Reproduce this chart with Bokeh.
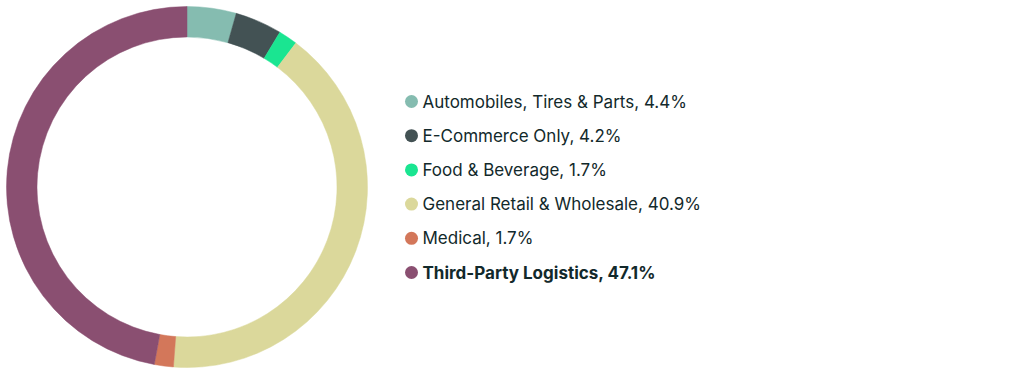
import numpy as np
from bokeh.plotting import figure
from bokeh.models import ColumnDataSource, Range1d
from bokeh.core.properties import value
from bokeh.embed import file_html
from bokeh.resources import INLINE

categories = ["Automobiles, Tires & Parts", "E-Commerce Only", "Food & Beverage",
              "General Retail & Wholesale", "Medical", "Third-Party Logistics"]
shares = [4.4, 4.2, 1.7, 40.9, 1.7, 47.1]
colors = ["#85bcb0", "#435254", "#1ae591", "#dbd89b", "#d3775a", "#8a4f71"]

W, H = 1020, 373
p = figure(width=W, height=H, output_backend="svg", toolbar_location=None,
           x_range=Range1d(0, W), y_range=Range1d(0, H), min_border=0)
p.axis.visible = False
p.grid.visible = False
p.outline_line_color = None
p.background_fill_color = "white"

total = sum(shares)
fr = np.array(shares) / total
ends = np.cumsum(fr)
starts = ends - fr
start_ang = np.pi / 2 - starts * 2 * np.pi
end_ang = np.pi / 2 - ends * 2 * np.pi

src = ColumnDataSource(dict(start=start_ang, end=end_ang, color=colors))
cx, cy = 186.5, H - 186.5
p.annular_wedge(x=cx, y=cy, inner_radius=150, outer_radius=180.5,
                start_angle="start", end_angle="end", direction="clock",
                fill_color="color", line_color="color", line_width=0.5,
                inner_radius_units="screen", outer_radius_units="screen", source=src)

labels = [f"{c}, {s}%" for c, s in zip(categories, shares)]
ys = [H - (101 + 34.2 * i) for i in range(len(categories))]
styles = ["normal"] * 5 + ["bold"]
lsrc = ColumnDataSource(dict(y=ys, label=labels, color=colors, style=styles))
p.scatter(x=411, y="y", size=13, fill_color="color", line_color=None, source=lsrc)
p.text(x=422, y="y", text="label", text_font=value("Inter"), text_font_size="17px",
       text_font_style="style", text_color="#12292b", text_baseline="middle",
       text_align="left", source=lsrc)

open("out.html", "w").write(file_html(p, INLINE))
